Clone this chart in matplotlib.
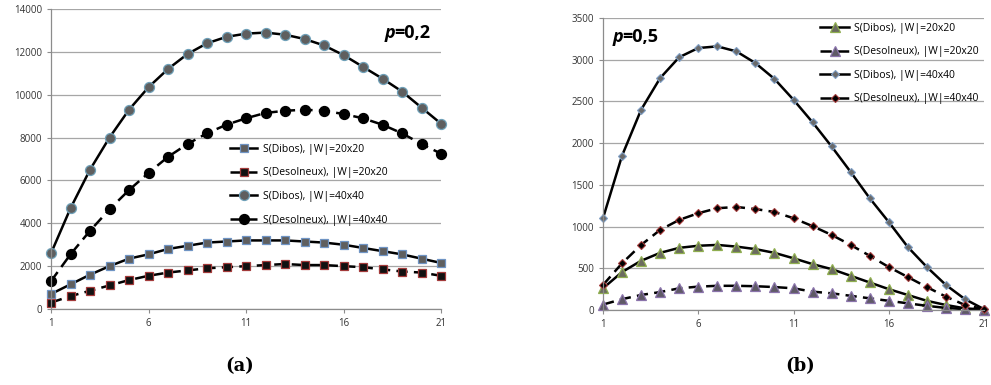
import matplotlib
matplotlib.use("Agg")
import matplotlib.pyplot as plt
import numpy as np

x = list(range(1, 22))

# (a) p=0,2
a_dibos_20 = [700, 1150, 1600, 2000, 2350, 2550, 2800, 2950, 3100, 3150, 3200,
              3200, 3200, 3150, 3100, 3000, 2850, 2700, 2550, 2350, 2150]
a_deso_20 = [300, 600, 850, 1100, 1350, 1550, 1700, 1800, 1900, 1950, 2000,
             2050, 2100, 2050, 2050, 2000, 1950, 1850, 1750, 1700, 1550]
a_dibos_40 = [2600, 4700, 6500, 8000, 9300, 10350, 11200, 11900, 12400, 12700, 12850,
              12900, 12800, 12600, 12300, 11850, 11300, 10750, 10150, 9400, 8650]
a_deso_40 = [1300, 2550, 3650, 4650, 5550, 6350, 7100, 7700, 8200, 8600, 8900,
             9150, 9250, 9300, 9250, 9100, 8900, 8600, 8200, 7700, 7250]

# (b) p=0,5
b_dibos_20 = [260, 455, 590, 685, 745, 770, 780, 760, 730, 685, 620,
              550, 490, 410, 330, 250, 180, 110, 60, 20, 5]
b_deso_20 = [65, 130, 180, 215, 260, 280, 290, 290, 285, 275, 260,
             220, 200, 170, 140, 110, 80, 50, 25, 10, 0]
b_dibos_40 = [1100, 1850, 2400, 2780, 3030, 3140, 3160, 3100, 2960, 2770, 2520,
              2250, 1960, 1655, 1340, 1055, 755, 515, 300, 130, 10]
b_deso_40 = [300, 560, 780, 960, 1080, 1160, 1220, 1235, 1210, 1175, 1100,
             1005, 900, 780, 650, 515, 395, 275, 160, 60, 10]

labels = ["S(Dibos), |W|=20x20", "S(Desolneux), |W|=20x20",
          "S(Dibos), |W|=40x40", "S(Desolneux), |W|=40x40"]
xticks = [1, 6, 11, 16, 21]

fig = plt.figure(figsize=(9.91, 3.85), dpi=100)
axA = fig.add_axes([51/991, 1-309/385, 390/991, 300/385])
axB = fig.add_axes([603/991, 1-310/385, 381/991, 292/385])

DASH = (0, (4.5, 2.5))
SANS = "Open Sans"

def style(ax, ymax, ystep):
    ax.set_xlim(1, 21)
    ax.set_ylim(0, ymax)
    ax.set_xticks(xticks)
    ax.set_yticks(np.arange(0, ymax + 1, ystep))
    ax.grid(axis="y", color="#a6a6a6", lw=0.9)
    ax.set_axisbelow(True)
    for s in ["top", "right"]:
        ax.spines[s].set_visible(False)
    for s in ["left", "bottom"]:
        ax.spines[s].set_color("#8c8c8c")
        ax.spines[s].set_linewidth(0.9)
    ax.tick_params(axis="both", labelsize=7, colors="#333333", length=3,
                   width=0.8, color="#8c8c8c")
    for t in ax.get_xticklabels() + ax.get_yticklabels():
        t.set_family(SANS)
    ax.patch.set_alpha(0)

# Panel a
axA.plot(x, a_dibos_20, color="black", lw=1.8, marker="s", ms=6.2,
         mfc="#5f5f5f", mec="#6f94c4", mew=0.9, label=labels[0], clip_on=False)
axA.plot(x, a_deso_20, color="black", lw=1.8, ls=DASH, marker="s", ms=6.2,
         mfc="#111111", mec="#a33a3a", mew=0.9, label=labels[1], clip_on=False)
axA.plot(x, a_dibos_40, color="black", lw=1.8, marker="o", ms=7.2,
         mfc="#5f5f5f", mec="#6fa0b8", mew=0.9, label=labels[2], clip_on=False)
axA.plot(x, a_deso_40, color="black", lw=1.8, ls=DASH, marker="o", ms=7.2,
         mfc="black", mec="black", mew=0.9, label=labels[3], clip_on=False)
style(axA, 14000, 2000)
axA.legend(loc="upper left", bbox_to_anchor=(0.459, 0.55), frameon=False,
           handlelength=2.6, labelspacing=1.2,
           handletextpad=0.6, borderaxespad=0, borderpad=0,
           prop={"family": SANS, "size": 7.5})
fig.text(385/991, 1-33/385, "p", fontsize=13, fontweight="bold", style="italic",
         family=SANS, va="center", ha="left")
fig.text(394/991, 1-33/385, "=0,2", fontsize=13, fontweight="bold",
         family=SANS, va="center", ha="left")

# Panel b
axB.plot(x, b_dibos_20, color="black", lw=1.8, marker="^", ms=6.5,
         mfc="#6b6b5f", mec="#8fae4f", mew=0.9, label=labels[0], clip_on=False)
axB.plot(x, b_deso_20, color="black", lw=1.8, ls=DASH, marker="^", ms=6.5,
         mfc="#5f5a66", mec="#8a73ab", mew=0.9, label=labels[1], clip_on=False)
axB.plot(x, b_dibos_40, color="black", lw=1.8, marker="D", ms=4.2,
         mfc="#6a6a6a", mec="#7f9fc5", mew=0.8, label=labels[2], clip_on=False)
axB.plot(x, b_deso_40, color="black", lw=1.8, ls=DASH, marker="D", ms=4.2,
         mfc="black", mec="#a33a3a", mew=0.8, label=labels[3], clip_on=False)
style(axB, 3500, 500)
axB.legend(loc="upper left", bbox_to_anchor=(0.57, 0.983), frameon=False,
           handlelength=2.8, labelspacing=1.2,
           handletextpad=0.4, borderaxespad=0, borderpad=0,
           prop={"family": SANS, "size": 7.5})
fig.text(613/991, 1-37/385, "p", fontsize=13, fontweight="bold", style="italic",
         family=SANS, va="center", ha="left")
fig.text(622/991, 1-37/385, "=0,5", fontsize=13, fontweight="bold",
         family=SANS, va="center", ha="left")

fig.text(240/991, 1-366/385, "(a)", fontsize=13, fontweight="bold",
         family="DejaVu Serif", ha="center", va="center")
fig.text(800/991, 1-366/385, "(b)", fontsize=13, fontweight="bold",
         family="DejaVu Serif", ha="center", va="center")

fig.savefig("out.png", dpi=100)
